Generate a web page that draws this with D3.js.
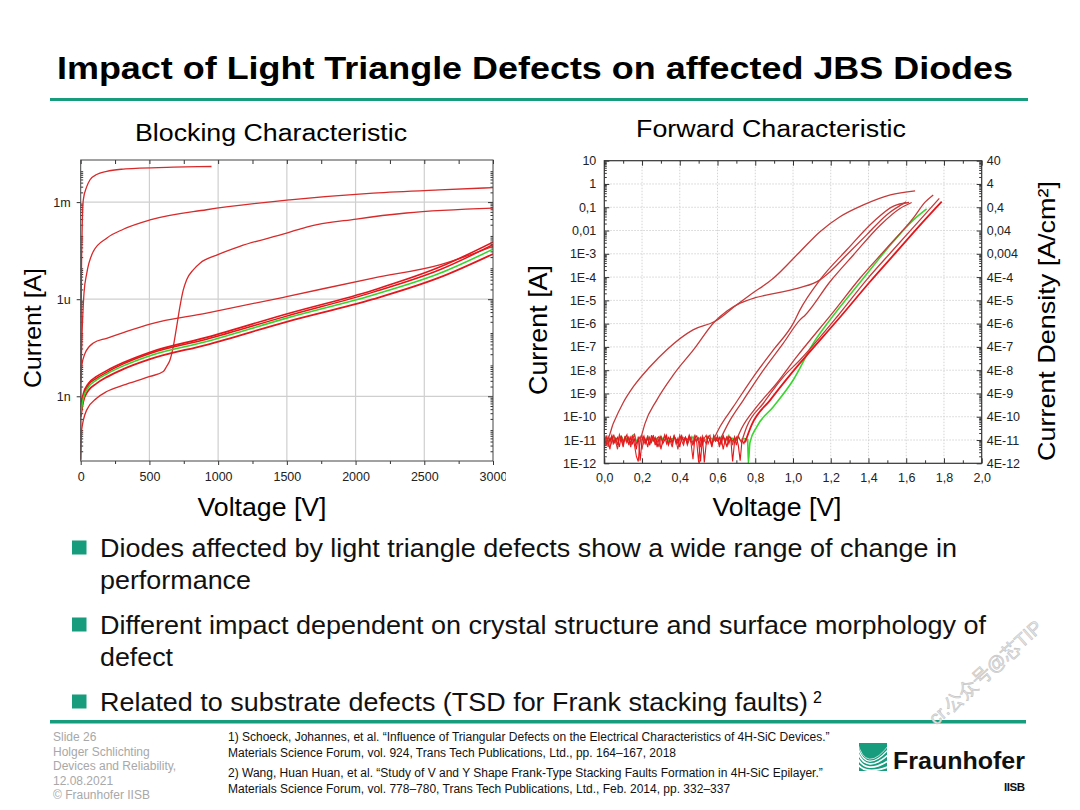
<!DOCTYPE html>
<meta charset="utf-8">
<style>
body { margin: 0; background: #fff; }
svg text { font-family: "Liberation Sans", Arial, sans-serif; }
.tick text { font-family: "Liberation Sans", Arial, sans-serif; fill: #222; }
</style>
<svg id="slide" width="1080" height="810"></svg>
<script src="https://d3js.org/d3.v7.min.js"></script>
<script>
// ---------- blocking characteristic, [voltage V, current A]
var blockA = [[0,1.1e-11],[2,2.5e-9],[5,3.2e-6],[10,1.1e-4],[19,1.17e-3],[44,3.0e-3],[68,4.9e-3],[116,7.1e-3],[189,8.9e-3],[310,1.05e-2],[431,1.12e-2],[673,1.2e-2],[952,1.26e-2]];
var blockB = [[0,3.2e-9],[10,8.9e-8],[24,1.55e-6],[44,6.3e-6],[92,3.0e-5],[189,7.7e-5],[310,1.45e-4],[504,2.8e-4],[916,5.8e-4],[1522,1.17e-3],[2128,1.9e-3],[2612,2.4e-3],[3000,2.8e-3]];
var blockC = [[0,1.1e-11],[7,9.1e-11],[44,3.8e-10],[116,8.7e-10],[189,1.4e-9],[310,2.2e-9],[504,4.1e-9],[601,5.8e-9],[625,8.3e-9],[649,1.3e-8],[674,3.5e-8],[698,1.4e-7],[722,5.9e-7],[746,1.9e-6],[771,4.0e-6],[819,8.1e-6],[868,1.3e-5],[989,2.3e-5],[1158,4.3e-5],[1498,1.1e-4],[1643,1.7e-4],[2006,3.0e-4],[2370,4.6e-4],[3000,6.5e-4]];
var blockD = [[0,2.5e-9],[7,8.3e-9],[31,2.1e-8],[92,4.4e-8],[189,6.2e-8],[310,9.3e-8],[504,1.7e-7],[916,3.7e-7],[1498,1.2e-6],[2128,4.5e-6],[2612,1.15e-5],[3000,4.3e-5]];
var bundleVolts = [0,19,56,116,189,310,504,916,1498,2128,2612,3000];
var bundleR1 = [4.8e-10,1.2e-9,2.5e-9,4.1e-9,6.2e-9,1.1e-8,2.3e-8,6.6e-8,3.5e-7,1.9e-6,9.8e-6,5.8e-5];
var bundleR2 = [3.8e-10,1.0e-9,2.2e-9,3.6e-9,5.5e-9,1.0e-8,2.1e-8,5.8e-8,3.0e-7,1.65e-6,8.1e-6,4.8e-5];
var bundleGreen = [3.0e-10,8.7e-10,1.9e-9,3.2e-9,4.9e-9,8.7e-9,1.8e-8,4.9e-8,2.6e-7,1.35e-6,6.3e-6,3.5e-5];
var bundleR3 = [2.3e-10,6.9e-10,1.5e-9,2.5e-9,3.9e-9,6.9e-9,1.4e-8,3.9e-8,2.0e-7,1.0e-6,4.7e-6,2.5e-5];

// ---------- forward characteristic, [voltage V, current A]
var fwdF1 = [[0.0,1.0e-11],[0.013,1.0e-11],[0.048,5.2e-11],[0.10,4.0e-10],[0.154,1.95e-9],[0.242,1.4e-8],[0.33,7.4e-8],[0.47,5.4e-7],[0.587,1.26e-6],[0.70,6.3e-6],[0.772,1.7e-5],[0.896,8.9e-5],[1.037,1.23e-3],[1.143,8.9e-3],[1.249,3.9e-2],[1.373,0.126],[1.516,0.34],[1.647,0.51]];
var fwdF2 = [[0.189,8.5e-12],[0.216,5.2e-11],[0.278,5.2e-10],[0.366,6.3e-9],[0.472,7.4e-8],[0.587,1.26e-6],[0.65,3.5e-6],[0.72,7.6e-6],[0.80,1.3e-5],[0.93,2.2e-5],[1.037,3.5e-5],[1.143,7.6e-5],[1.196,1.7e-4],[1.284,8.9e-4],[1.39,6.5e-3],[1.496,4.7e-2],[1.60,0.17]];
var fwdF3 = [[0.578,1.0e-11],[0.613,3.7e-11],[0.684,2.7e-10],[0.79,5.2e-9],[0.896,7.4e-8],[1.002,1.05e-6],[1.037,3.9e-6],[1.143,7.6e-5],[1.284,1.45e-3],[1.426,2.4e-2],[1.53,0.11],[1.615,0.16]];
var fwdF4 = [[0.613,1.0e-11],[0.657,5.2e-11],[0.737,5.2e-10],[0.843,1.0e-8],[0.949,1.45e-7],[1.037,1.45e-6],[1.064,2.3e-6],[1.196,6.3e-5],[1.32,8.9e-4],[1.462,1.7e-2],[1.567,8.9e-2],[1.629,0.16]];
var fwdB1 = [[0.70,1.0e-11],[0.728,3.2e-11],[0.808,2.7e-10],[0.914,2.75e-9],[1.02,3.8e-8],[1.214,3.2e-6],[1.355,8.9e-5],[1.496,1.74e-3],[1.637,3.4e-2],[1.70,0.166],[1.743,0.34]];
var fwdB2 = [[0.728,8.5e-12],[0.755,3.7e-11],[0.843,3.8e-10],[0.949,5.2e-9],[1.037,2.75e-8],[1.24,2.3e-6],[1.39,7.6e-5],[1.53,1.45e-3],[1.672,2.8e-2],[1.775,0.24]];
var fwdB3 = [[0.746,7.9e-12],[0.781,4.5e-11],[0.879,5.2e-10],[0.985,6.3e-9],[1.037,2.0e-8],[1.258,2.3e-6],[1.408,6.3e-5],[1.549,1.23e-3],[1.69,2.4e-2],[1.788,0.174]];
var fwdGreen = [[0.763,1.0e-12],[0.772,7.9e-12],[0.808,3.7e-11],[0.896,2.7e-10],[1.002,3.9e-9],[1.108,1.45e-7],[1.196,1.45e-6],[1.373,8.9e-5],[1.516,2.4e-3],[1.637,2.8e-2],[1.708,8.5e-2]];

// measurement noise floor, pA, sampled every 0.01 V from 0 V
var noiseStep = 0.01;
var noiseR1 = [8,16,5,12,7,17,9,4,14,11, 6,15,8,13,5,11,17,7,10,14, 4,12,8,16,6,11,15,7,10,5,
  14,8,17,11,6,13,7,15,10,4, 12,16,8,13,6,10,14,7,17,9, 12,5,15,10,7,13,16,6,11,9, 14,5,10,15,7,13,8,12,6,14, 9];
var noiseR2 = [7,13,10,4,15,8,12,6,17,10, 5,14,8,13,7,16,6,2,1.2,12, 15,7,11,5,13,8,16,6,12,14,
  4,10,15,7,13,9,5,14,11,7, 16,9,6,13,10,15,7,1.5,12,8, 1.1,14,6,12,16,7,11,5,13,9, 15,6,12,4,10,14,7,13,9,12, 6,15,10,7];
var noiseR3 = [12,6,14,9,16,7,10,13,5,15, 8,12,17,6,13,7,11,4,14,1.3, 10,15,7,12,6,16,9,13,5,12,
  14,7,10,16,6,13,8,15,7,12, 5,14,10,13,7,16,9,6,12,15, 8,1.2,13,1.1,7,14,10,6,16,11, 9,13,7,15,10,5,14,12,1.2,8, 13,6,1.3,10,7,12];
var noiseG = [10,13,9,12,11,14,8,12,10,15, 11,9,13,10,12,16,18,9,11,13, 10,12,9,14,11,8,13,10,12,9,
  15,11,10,13,9,12,11,14,10,9, 12,10,13,11,8,12,10,14,9,11, 13,10,12,9,11,15,10,12,9,13, 11,10,14,12,9,11,16,10,12,9, 11,13,10,9,12,10,11];

// ---------- tick labels
var blockXTicks = [0,500,1000,1500,2000,2500,3000];
var blockYTicks = [1e-3,1e-6,1e-9];
var blockYLabels = ["1m","1u","1n"];
var fwdXTicks = [0,0.2,0.4,0.6,0.8,1.0,1.2,1.4,1.6,1.8,2.0];
var fwdXLabels = ["0,0","0,2","0,4","0,6","0,8","1,0","1,2","1,4","1,6","1,8","2,0"];
var fwdYTicks = [10,1,0.1,0.01,1e-3,1e-4,1e-5,1e-6,1e-7,1e-8,1e-9,1e-10,1e-11,1e-12];
var fwdYLabels = ["10","1","0,1","0,01","1E-3","1E-4","1E-5","1E-6","1E-7","1E-8","1E-9","1E-10","1E-11","1E-12"];
var fwdY2Labels = ["40","4","0,4","0,04","0,004","4E-4","4E-5","4E-6","4E-7","4E-8","4E-9","4E-10","4E-11","4E-12"];

var bullets = [
  ["Diodes affected by light triangle defects show a wide range of change in", "performance"],
  ["Different impact dependent on crystal structure and surface morphology of", "defect"],
  ["Related to substrate defects (TSD for Frank stacking faults)"]
];
var footerLeft = ["Slide 26","Holger Schlichting","Devices and Reliability,","12.08.2021","\u00a9 Fraunhofer IISB"];
var references = [
  "1) Schoeck, Johannes, et al. \u201cInfluence of Triangular Defects on the Electrical Characteristics of 4H-SiC Devices.\u201d",
  "Materials Science Forum, vol. 924, Trans Tech Publications, Ltd., pp. 164\u2013167, 2018",
  "2) Wang, Huan Huan, et al. \u201cStudy of V and Y Shape Frank-Type Stacking Faults Formation in 4H-SiC Epilayer.\u201d",
  "Materials Science Forum, vol. 778\u2013780, Trans Tech Publications, Ltd., Feb. 2014, pp. 332\u2013337"
];

var teal = "#179c7d";
var svg = d3.select("#slide");
svg.append("rect").attr("width", 1080).attr("height", 810).attr("fill", "#fff");

// the slide font runs wider than Liberation Sans, so stretch lines to their measured width
function fit(sel, w) { return sel.attr("textLength", w).attr("lengthAdjust", "spacingAndGlyphs"); }

// ---------- title
fit(svg.append("text").attr("x", 57).attr("y", 79).attr("font-size", 31.5).attr("font-weight", "bold")
  .attr("fill", "#000").text("Impact of Light Triangle Defects on affected JBS Diodes"), 956);
svg.append("rect").attr("x", 50).attr("y", 98).attr("width", 978).attr("height", 3).attr("fill", teal);

function minorLogTicks(lo, hi) {
  var out = [];
  for (var e = lo; e < hi; e++) for (var m = 2; m <= 9; m++) out.push(m * Math.pow(10, e));
  return out;
}
function styleAxis(g) {
  g.select(".domain").remove();
  g.selectAll(".tick line").attr("stroke", "#333");
}

// ================= left chart: blocking
var bx = d3.scaleLinear().domain([0, 3000]).range([80.7, 493]);
var by = d3.scaleLog().domain([1e-11, 2e-2]).range([461, 160]);
svg.append("clipPath").attr("id", "leftClip").append("rect").attr("x", 0).attr("y", 100).attr("width", 506).attr("height", 420);
svg.append("clipPath").attr("id", "leftPlot").append("rect").attr("x", bx(0)).attr("y", by(2e-2)).attr("width", bx(3000) - bx(0)).attr("height", by(1e-11) - by(2e-2));
var left = svg.append("g").attr("clip-path", "url(#leftClip)");

left.append("g").selectAll("line").data(blockXTicks.slice(1, -1)).join("line")
  .attr("x1", d => bx(d)).attr("x2", d => bx(d)).attr("y1", by(2e-2)).attr("y2", by(1e-11))
  .attr("stroke", "#cfcfcf").attr("stroke-width", 1.2);
left.append("g").selectAll("line").data(blockYTicks).join("line")
  .attr("x1", bx(0)).attr("x2", bx(3000)).attr("y1", d => by(d)).attr("y2", d => by(d))
  .attr("stroke", "#cfcfcf").attr("stroke-width", 1.2);

left.append("g").attr("transform", "translate(0," + by(1e-11) + ")")
  .call(d3.axisBottom(bx).tickValues(blockXTicks).tickSize(4).tickPadding(7).tickFormat(d3.format("d")))
  .call(styleAxis).call(g => g.selectAll("text").attr("font-size", 12.5).attr("fill", "#333"));
left.append("g").attr("transform", "translate(0," + by(1e-11) + ")")
  .call(d3.axisBottom(bx).tickValues(d3.range(250, 3000, 500)).tickSize(3).tickFormat(""))
  .call(styleAxis);
left.append("g").attr("transform", "translate(0," + by(2e-2) + ")")
  .call(d3.axisBottom(bx).tickValues(d3.range(0, 3001, 250)).tickSize(4).tickFormat(""))
  .call(styleAxis);
left.append("g").attr("transform", "translate(" + bx(0) + ",0)")
  .call(d3.axisLeft(by).tickValues(blockYTicks).tickSize(4).tickPadding(6).tickFormat((d, i) => blockYLabels[i]))
  .call(styleAxis).call(g => g.selectAll("text").attr("font-size", 12.5).attr("fill", "#333"));
left.append("g").attr("transform", "translate(" + bx(0) + ",0)")
  .call(d3.axisRight(by).tickValues(minorLogTicks(-11, -2)).tickSize(2.5).tickFormat(""))
  .call(styleAxis);
left.append("g").attr("transform", "translate(" + bx(3000) + ",0)")
  .call(d3.axisLeft(by).tickValues(minorLogTicks(-11, -2)).tickSize(2.5).tickFormat(""))
  .call(styleAxis);
left.append("g").attr("transform", "translate(" + bx(3000) + ",0)")
  .call(d3.axisLeft(by).tickValues(blockYTicks).tickSize(5).tickFormat(""))
  .call(styleAxis);

var bline = d3.line().x(d => bx(d[0])).y(d => by(d[1])).curve(d3.curveMonotoneX);
var bplot = left.append("g").attr("clip-path", "url(#leftPlot)").attr("fill", "none");
function bundle(vals) { return bundleVolts.map((v, i) => [v, vals[i]]); }
[blockA, blockB, blockC, blockD].forEach(function (c) {
  bplot.append("path").attr("d", bline(c)).attr("stroke", "#d82a2a").attr("stroke-width", 1.3);
});
[[bundleR1, "#e3161c", 1.6], [bundleR2, "#e3161c", 1.5], [bundleR3, "#e3161c", 1.8], [bundleGreen, "#36d42c", 1.6]].forEach(function (c) {
  bplot.append("path").attr("d", bline(bundle(c[0]))).attr("stroke", c[1]).attr("stroke-width", c[2]);
});
left.append("rect").attr("x", bx(0)).attr("y", by(2e-2)).attr("width", bx(3000) - bx(0)).attr("height", by(1e-11) - by(2e-2))
  .attr("fill", "none").attr("stroke", "#444").attr("stroke-width", 1);

fit(svg.append("text").attr("x", 271).attr("y", 141).attr("text-anchor", "middle").attr("font-size", 23).text("Blocking Characteristic"), 272);
fit(svg.append("text").attr("x", 262).attr("y", 516).attr("text-anchor", "middle").attr("font-size", 25).text("Voltage [V]"), 129);
fit(svg.append("text").attr("transform", "translate(41,328) rotate(-90)").attr("text-anchor", "middle").attr("font-size", 24).text("Current [A]"), 120);

// ================= right chart: forward
var fx = d3.scaleLinear().domain([0, 2]).range([604.3, 981.7]);
var fy = d3.scaleLog().domain([1e-12, 10]).range([463.3, 160.7]);
svg.append("clipPath").attr("id", "rightPlot").append("rect").attr("x", fx(0)).attr("y", fy(10)).attr("width", fx(2) - fx(0)).attr("height", fy(1e-12) - fy(10));
var right = svg.append("g");

right.append("g").selectAll("line").data(fwdXTicks.slice(1, -1)).join("line")
  .attr("x1", d => fx(d)).attr("x2", d => fx(d)).attr("y1", fy(10)).attr("y2", fy(1e-12))
  .attr("stroke", "#d4d4d4").attr("stroke-dasharray", "1.5,1.5");
right.append("g").selectAll("line").data(fwdYTicks.slice(1, -1)).join("line")
  .attr("x1", fx(0)).attr("x2", fx(2)).attr("y1", d => fy(d)).attr("y2", d => fy(d))
  .attr("stroke", "#d4d4d4").attr("stroke-dasharray", "1.5,1.5");

right.append("g").attr("transform", "translate(0," + fy(1e-12) + ")")
  .call(d3.axisBottom(fx).tickValues(fwdXTicks).tickSize(0).tickPadding(10).tickFormat((d, i) => fwdXLabels[i]))
  .call(styleAxis).call(g => g.selectAll("text").attr("font-size", 12.5));
right.append("g").attr("transform", "translate(0," + fy(1e-12) + ")")
  .call(d3.axisTop(fx).tickValues(fwdXTicks).tickSize(5).tickFormat("")).call(styleAxis);
right.append("g").attr("transform", "translate(0," + fy(1e-12) + ")")
  .call(d3.axisTop(fx).tickValues(d3.range(0.1, 2, 0.2)).tickSize(3).tickFormat("")).call(styleAxis);
right.append("g").attr("transform", "translate(0," + fy(10) + ")")
  .call(d3.axisBottom(fx).tickValues(fwdXTicks).tickSize(5).tickFormat("")).call(styleAxis);
right.append("g").attr("transform", "translate(0," + fy(10) + ")")
  .call(d3.axisBottom(fx).tickValues(d3.range(0.1, 2, 0.2)).tickSize(3).tickFormat("")).call(styleAxis);
right.append("g").attr("transform", "translate(" + fx(0) + ",0)")
  .call(d3.axisLeft(fy).tickValues(fwdYTicks).tickSize(0).tickPadding(8).tickFormat((d, i) => fwdYLabels[i]))
  .call(styleAxis).call(g => g.selectAll("text").attr("font-size", 12.5));
right.append("g").attr("transform", "translate(" + fx(0) + ",0)")
  .call(d3.axisRight(fy).tickValues(fwdYTicks).tickSize(5).tickFormat("")).call(styleAxis);
right.append("g").attr("transform", "translate(" + fx(0) + ",0)")
  .call(d3.axisRight(fy).tickValues(minorLogTicks(-12, 1)).tickSize(2.5).tickFormat("")).call(styleAxis);
right.append("g").attr("transform", "translate(" + fx(2) + ",0)")
  .call(d3.axisRight(fy).tickValues(fwdYTicks).tickSize(0).tickPadding(5).tickFormat((d, i) => fwdY2Labels[i]))
  .call(styleAxis).call(g => g.selectAll("text").attr("font-size", 12.5));
right.append("g").attr("transform", "translate(" + fx(2) + ",0)")
  .call(d3.axisLeft(fy).tickValues(fwdYTicks).tickSize(5).tickFormat("")).call(styleAxis);
right.append("g").attr("transform", "translate(" + fx(2) + ",0)")
  .call(d3.axisLeft(fy).tickValues(minorLogTicks(-12, 1)).tickSize(2.5).tickFormat("")).call(styleAxis);

var fline = d3.line().x(d => fx(d[0])).y(d => fy(d[1])).curve(d3.curveMonotoneX);
var nline = d3.line().x((d, i) => fx(i * noiseStep)).y(d => fy(d * 1e-12));
var fplot = right.append("g").attr("clip-path", "url(#rightPlot)").attr("fill", "none");
fplot.append("path").attr("d", nline(noiseG)).attr("stroke", "#3ad630").attr("stroke-width", 1.2);
[[noiseR1, "#c53a3a"], [noiseR2, "#ee1c1c"], [noiseR3, "#e3161c"]].forEach(function (n) {
  fplot.append("path").attr("d", nline(n[0])).attr("stroke", n[1]).attr("stroke-width", 1.1);
});
fplot.append("path").attr("d", fline([[0.76, 1.1e-11]].concat(fwdGreen))).attr("stroke", "#3ad630").attr("stroke-width", 1.6);
[fwdF1, fwdF2, fwdF3, fwdF4, fwdB1, fwdB2].forEach(function (c) {
  fplot.append("path").attr("d", fline(c)).attr("stroke", "#c53a3a").attr("stroke-width", 1.3);
});
fplot.append("path").attr("d", fline(fwdB3)).attr("stroke", "#e3161c").attr("stroke-width", 1.8);
right.append("rect").attr("x", fx(0)).attr("y", fy(10)).attr("width", fx(2) - fx(0)).attr("height", fy(1e-12) - fy(10))
  .attr("fill", "none").attr("stroke", "#333").attr("stroke-width", 1.2);

fit(svg.append("text").attr("x", 771).attr("y", 137).attr("text-anchor", "middle").attr("font-size", 23).text("Forward Characteristic"), 270);
fit(svg.append("text").attr("x", 777).attr("y", 516).attr("text-anchor", "middle").attr("font-size", 25).text("Voltage [V]"), 129);
fit(svg.append("text").attr("transform", "translate(547,330) rotate(-90)").attr("text-anchor", "middle").attr("font-size", 25).text("Current [A]"), 130);
fit(svg.append("text").attr("transform", "translate(1055,321) rotate(-90)").attr("text-anchor", "middle").attr("font-size", 24.5)
  .text("Current Density [A/cm\u00b2]"), 280);

// ================= bullets
var lineBase = [[557, 589], [634, 666], [711]];
var lineWidth = [[857, 151], [886, 73], [708]];
bullets.forEach(function (b, i) {
  svg.append("rect").attr("x", 72).attr("y", lineBase[i][0] - 16.5).attr("width", 14.5).attr("height", 14).attr("fill", teal);
  b.forEach(function (t, j) {
    fit(svg.append("text").attr("x", 100).attr("y", lineBase[i][j]).attr("font-size", 25.5).attr("fill", "#111").text(t), lineWidth[i][j]);
  });
});
svg.append("text").attr("x", 813).attr("y", 703).attr("font-size", 16).text("2");

// ================= footer
svg.append("rect").attr("x", 50).attr("y", 720).attr("width", 976).attr("height", 3.5).attr("fill", teal);
footerLeft.forEach(function (t, i) {
  svg.append("text").attr("x", 53).attr("y", 741 + i * 14.5).attr("font-size", 12).attr("fill", "#a8a8a8").text(t);
});
[741, 757, 777, 793].forEach(function (y, i) {
  svg.append("text").attr("x", 228).attr("y", y).attr("font-size", 12).attr("fill", "#111").text(references[i]);
});

// logo
var logo = svg.append("g");
logo.append("clipPath").attr("id", "logoClip").append("rect").attr("x", 859).attr("y", 743).attr("width", 28).attr("height", 28);
var lg = logo.append("g").attr("clip-path", "url(#logoClip)");
lg.append("rect").attr("x", 859).attr("y", 743).attr("width", 28).attr("height", 28).attr("fill", teal);
[[743, 0.7], [747, 1.3], [752.5, 1.6], [759, 1.8], [765.5, 1.8]].forEach(function (s) {
  lg.append("path").attr("d", "M857," + (s[0] - 2) + " Q866,776 890," + (s[0] + 0.5))
    .attr("stroke", "#fff").attr("stroke-width", s[1]).attr("fill", "none");
});
logo.append("text").attr("x", 893).attr("y", 769).attr("font-size", 24).attr("font-weight", "bold")
  .attr("font-family", "'Open Sans', sans-serif").attr("textLength", 132).attr("lengthAdjust", "spacingAndGlyphs")
  .attr("fill", "#111").text("Fraunhofer");
logo.append("text").attr("x", 1004).attr("y", 791).attr("font-size", 11.5).attr("font-weight", "bold")
  .attr("font-family", "'Open Sans', sans-serif").attr("textLength", 21).attr("fill", "#111").text("IISB");

// watermark
svg.append("text").attr("transform", "translate(936,726) rotate(-42)")
  .attr("font-size", 19).attr("font-family", "'DejaVu Serif','Noto Sans CJK SC',serif")
  .attr("fill", "#e6e6e6").attr("stroke", "#c4c4c4").attr("stroke-width", 0.6).text("cr.\u516c\u4f17\u53f7@\u82afTIP");
</script>
